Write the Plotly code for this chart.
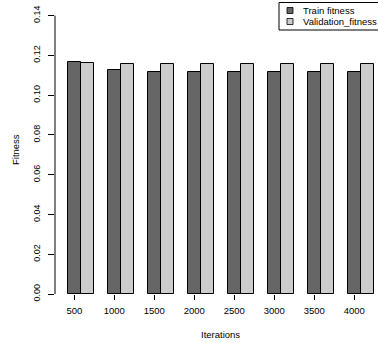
import plotly.graph_objects as go

# Fitness per iteration count
iterations = ["500", "1000", "1500", "2000", "2500", "3000", "3500", "4000"]
train_fitness = [0.1167, 0.1128, 0.1118, 0.1117, 0.1117, 0.1117, 0.1117, 0.1117]
validation_fitness = [0.1161, 0.1157, 0.1156, 0.1157, 0.1157, 0.1157, 0.1157, 0.1157]
y_ticks = [0.00, 0.02, 0.04, 0.06, 0.08, 0.10, 0.12, 0.14]
y_ticktext = ["0.00", "0.02", "0.04", "0.06", "0.08", "0.10", "0.12", "0.14"]
series_names = ["Train fitness", "Validation_fitness"]
series_colors = ["#666666", "#CCCCCC"]

W, H = 378, 343
ML, MR, MT, MB = 55, 0, 3, 49
PW, PH = W - ML - MR, H - MT - MB
FONT = "Liberation Sans, Arial, sans-serif"
TXT = "black"


def px_x(px):
    return (px - ML) / PW


def px_y(py):
    return 1 - (py - MT) / PH


fig = go.Figure()
bar_w = 1 / 3
for name, vals, col, off in zip(series_names, [train_fitness, validation_fitness],
                                series_colors, [-bar_w / 2, bar_w / 2]):
    fig.add_trace(go.Bar(
        x=iterations, y=vals, name=name,
        marker=dict(color=col, line=dict(color="black", width=1)),
        width=bar_w, offset=off, showlegend=False,
    ))

# y axis line only spans the labelled range
fig.add_shape(type="line", xref="paper", yref="y", x0=0, x1=0,
              y0=y_ticks[0], y1=y_ticks[-1], line=dict(color="black", width=1))

# legend box (top right)
fig.add_shape(type="rect", xref="paper", yref="paper",
              x0=px_x(279), x1=px_x(386), y0=px_y(30), y1=px_y(2.5),
              line=dict(color="black", width=1), fillcolor="white", layer="above")
for i, (name, col) in enumerate(zip(series_names, series_colors)):
    cy = 10.5 + i * 11
    fig.add_shape(type="rect", xref="paper", yref="paper",
                  x0=px_x(287), x1=px_x(293), y0=px_y(cy + 3), y1=px_y(cy - 3),
                  line=dict(color="black", width=0.8), fillcolor=col, layer="above")
    fig.add_annotation(text=name, xref="paper", yref="paper",
                       x=px_x(301), y=px_y(cy), xanchor="left", yanchor="middle",
                       showarrow=False, font=dict(family=FONT, size=9.5, color=TXT))

# axis titles
fig.add_annotation(text="Iterations", xref="paper", yref="paper",
                   x=px_x(220.5), y=px_y(334), xanchor="center", yanchor="middle",
                   showarrow=False, font=dict(family=FONT, size=9.5, color=TXT))
fig.add_annotation(text="Fitness", xref="paper", yref="paper",
                   x=px_x(15), y=px_y(150), xanchor="center", yanchor="middle",
                   textangle=-90, showarrow=False,
                   font=dict(family=FONT, size=9.5, color=TXT))

fig.update_layout(
    width=W, height=H,
    margin=dict(l=ML, r=MR, t=MT, b=MB),
    paper_bgcolor="white", plot_bgcolor="white",
    bargap=0, barmode="overlay",
    font=dict(family=FONT, size=9.5, color=TXT),
    xaxis=dict(range=[-0.4825, -0.4825 + PW / 40], showgrid=False, zeroline=False,
               showline=False, ticks="outside", ticklen=5, tickcolor="black",
               ticklabelstandoff=3,
               tickfont=dict(family=FONT, size=9.5, color=TXT)),
    yaxis=dict(range=[0, (H - MB - MT) / 1988], tickvals=y_ticks, ticktext=y_ticktext,
               showgrid=False, zeroline=False, showline=False, ticks="outside",
               ticklen=6, tickcolor="black", tickangle=-90, ticklabelstandoff=4,
               tickfont=dict(family=FONT, size=9, color=TXT)),
)

fig.write_html("out.html")
